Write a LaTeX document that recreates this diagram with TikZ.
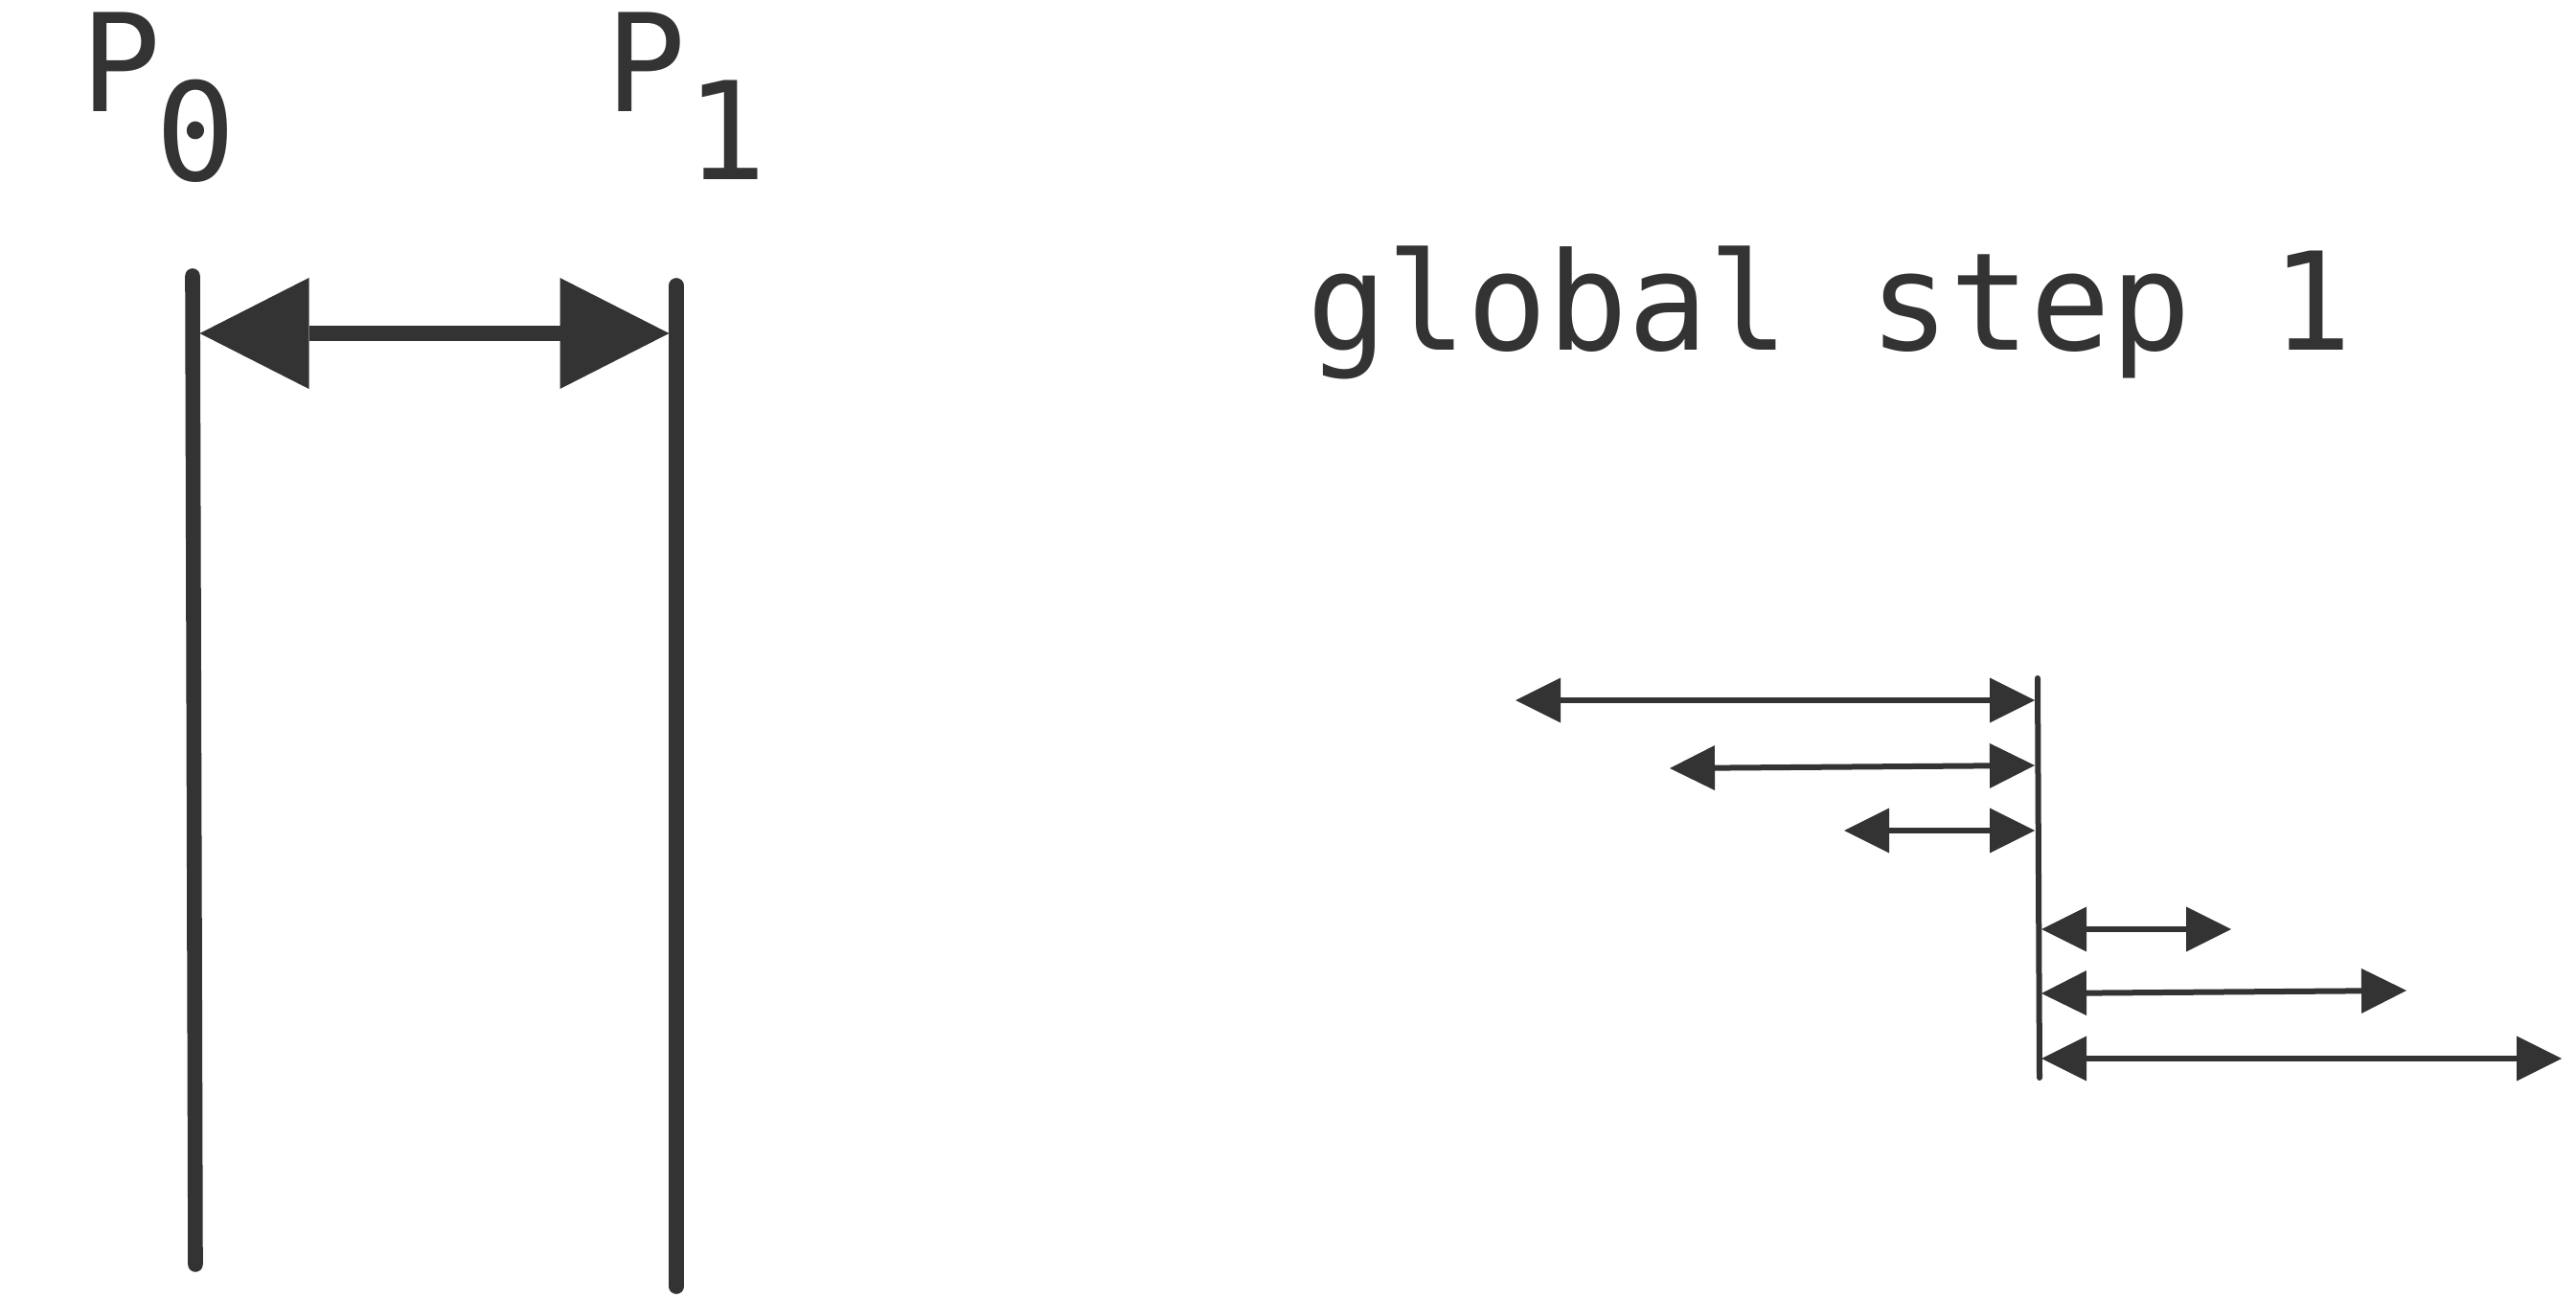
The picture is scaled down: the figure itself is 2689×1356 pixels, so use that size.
\documentclass[tikz,border=0pt]{standalone}
\usepackage{fontspec}
\newfontfamily\monofont[FakeStretch=0.982]{DejaVu Sans Mono}
\usetikzlibrary{arrows.meta}
\definecolor{ink}{HTML}{333333}
\begin{document}
\begin{tikzpicture}[x=0.25pt,y=-0.25pt,
  lbl/.style={inner sep=0pt, outer sep=0pt, anchor=base west,
    font=\monofont\fontsize{35.5pt}{40pt}\selectfont, text=ink},
  thickrule/.style={draw=ink, line width=3.9pt, line cap=round},
  thinrule/.style={draw=ink, line width=1.5pt, line cap=round},
  bigarrow/.style={draw=ink, line width=3.9pt,
    {Triangle[length=28.5pt,width=29pt,line width=0pt]}-{Triangle[length=28.5pt,width=29pt,line width=0pt]}},
  smallarrow/.style={draw=ink, line width=1.5pt,
    {Triangle[length=11.75pt,width=11.75pt,line width=0pt]}-{Triangle[length=11.75pt,width=11.75pt,line width=0pt]}}]
\useasboundingbox (0,0) rectangle (2689,1356);

% labels
\node[lbl] (p0) at (84,117) {P};
\node[lbl] (p0sub) at (162,189) {0};
\node[lbl] (p1) at (632,117) {P};
\node[lbl] (p1sub) at (716,188) {1};
\node[lbl] (title) at (1364,366) {global step 1};

% process time lines
\coordinate (l0top) at (201,288);
\coordinate (l0bot) at (204,1320);
\coordinate (l1top) at (706,298);
\coordinate (l1bot) at (706,1343);
\draw[thickrule] (l0top) -- (l0bot);
\draw[thickrule] (l1top) -- (l1bot);

\coordinate (ba) at (208.5,348);
\coordinate (bb) at (698.5,348);
\draw[bigarrow] (ba) -- (bb);

% global step line
\coordinate (gtop) at (2127,708);
\coordinate (gbot) at (2129,1125);
\draw[thinrule] (gtop) -- (gbot);

% arrows left of the step line
\coordinate (a1l) at (1582,731);
\coordinate (a1r) at (2124,731);
\coordinate (a2l) at (1743,802);
\coordinate (a2r) at (2124,799);
\coordinate (a3l) at (1925,867);
\coordinate (a3r) at (2124,867);
\draw[smallarrow] (a1l) -- (a1r);
\draw[smallarrow] (a2l) -- (a2r);
\draw[smallarrow] (a3l) -- (a3r);

% arrows right of the step line
\coordinate (a4l) at (2131,970);
\coordinate (a4r) at (2329,970);
\coordinate (a5l) at (2131,1037);
\coordinate (a5r) at (2512,1034);
\coordinate (a6l) at (2131,1105);
\coordinate (a6r) at (2674,1105);
\draw[smallarrow] (a4l) -- (a4r);
\draw[smallarrow] (a5l) -- (a5r);
\draw[smallarrow] (a6l) -- (a6r);
\end{tikzpicture}
\end{document}
